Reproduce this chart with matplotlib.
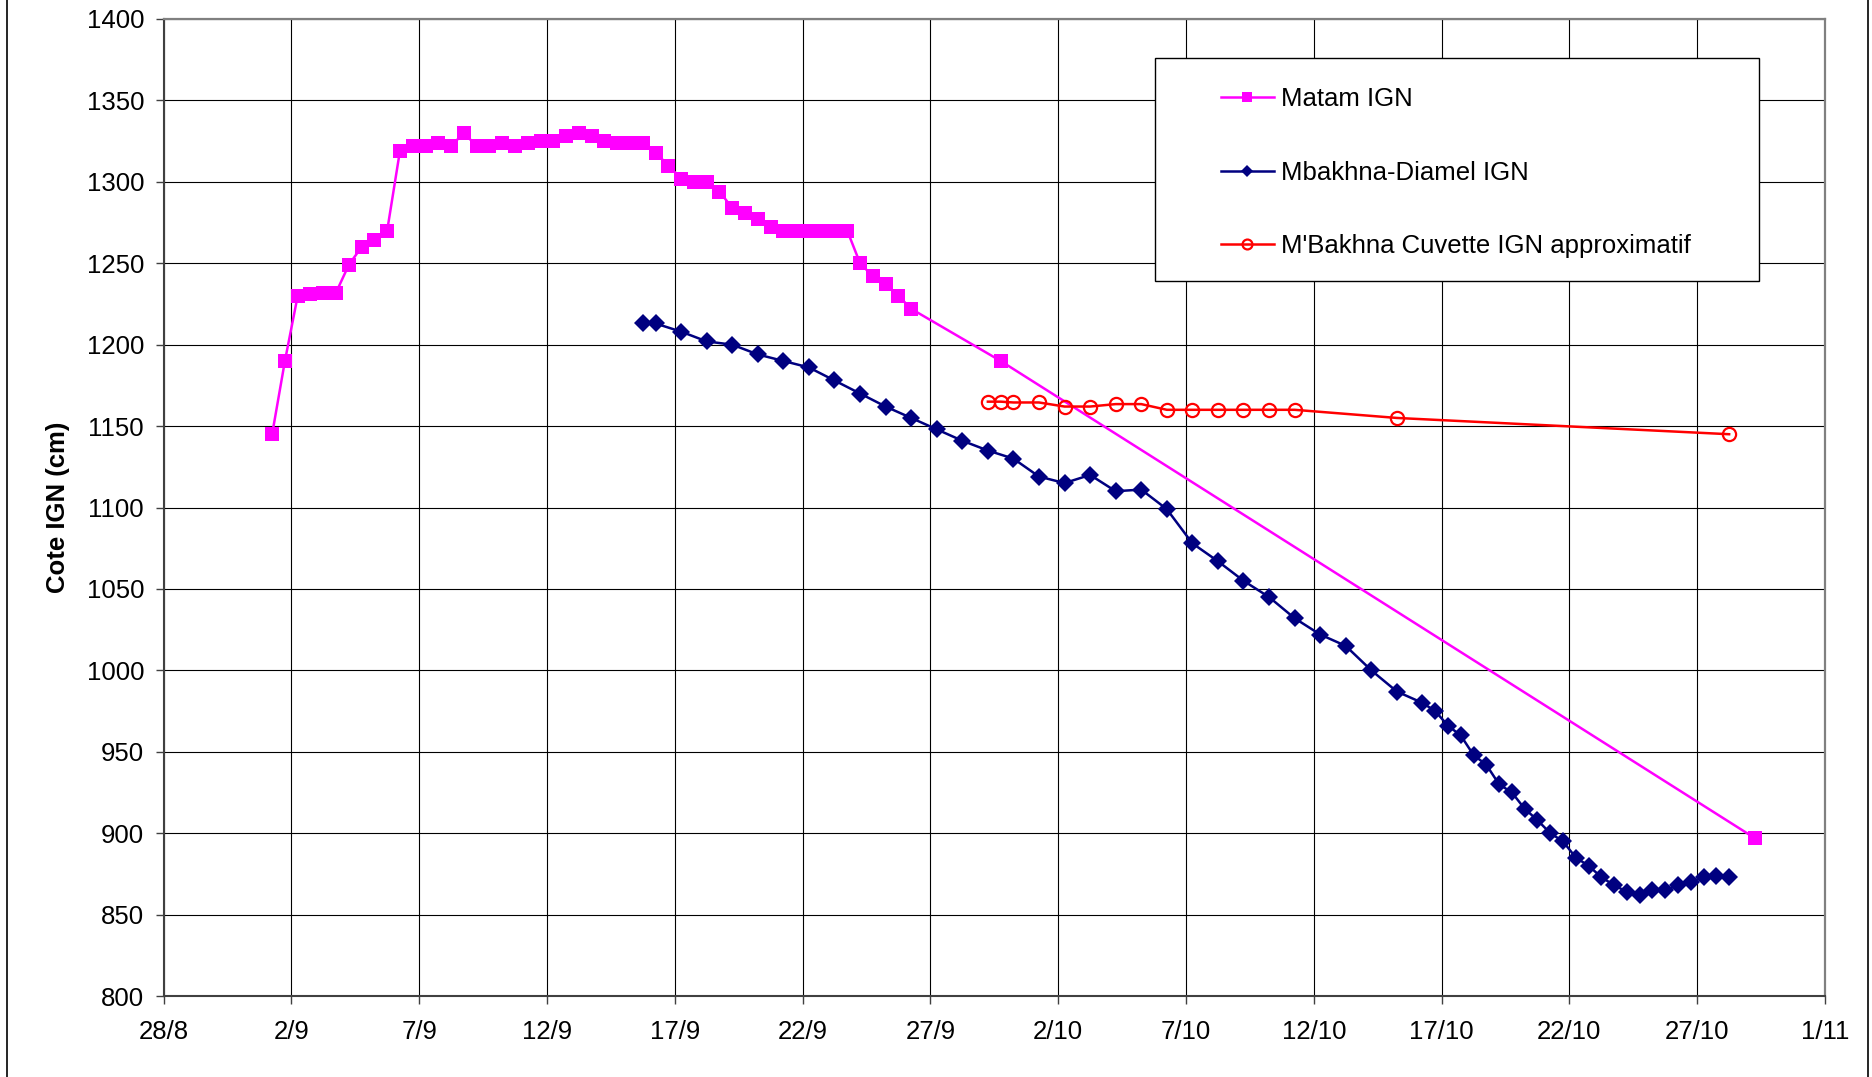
import matplotlib
matplotlib.use("Agg")
import matplotlib.pyplot as plt
from matplotlib.lines import Line2D
from matplotlib.patches import Rectangle

plt.rcParams['font.family'] = ['Liberation Sans', 'DejaVu Sans']

# x values are days counted from 28/8
tick_days = [0, 5, 10, 15, 20, 25, 30, 35, 40, 45, 50, 55, 60, 65]
tick_labels = ["28/8", "2/9", "7/9", "12/9", "17/9", "22/9", "27/9",
               "2/10", "7/10", "12/10", "17/10", "22/10", "27/10", "1/11"]

matam_days = [4.25, 4.75, 5.25, 5.75, 6.25, 6.75, 7.25, 7.75, 8.25, 8.75,
              9.25, 9.75, 10.25, 10.75, 11.25, 11.75, 12.25, 12.75, 13.25, 13.75,
              14.25, 14.75, 15.25, 15.75, 16.25, 16.75, 17.25, 17.75, 18.25, 18.75,
              19.25, 19.75, 20.25, 20.75, 21.25, 21.75, 22.25, 22.75, 23.25, 23.75,
              24.25, 24.75, 25.25, 25.75, 26.25, 26.75, 27.25, 27.75, 28.25, 28.75,
              29.25, 32.75, 62.25]
matam_cote = [1145, 1190, 1230, 1231, 1232, 1232, 1249, 1260, 1264, 1270,
              1319, 1322, 1322, 1324, 1322, 1330, 1322, 1322, 1324, 1322,
              1324, 1325, 1325, 1328, 1330, 1328, 1325, 1324, 1324, 1324,
              1318, 1310, 1302, 1300, 1300, 1294, 1284, 1281, 1277, 1272,
              1270, 1270, 1270, 1270, 1270, 1270, 1250, 1242, 1237, 1230,
              1222, 1190, 897]

diamel_days = [18.75, 19.25, 20.25, 21.25, 22.25, 23.25, 24.25, 25.25, 26.25, 27.25,
               28.25, 29.25, 30.25, 31.25, 32.25, 33.25, 34.25, 35.25, 36.25, 37.25,
               38.25, 39.25, 40.25, 41.25, 42.25, 43.25, 44.25, 45.25, 46.25, 47.25,
               48.25, 49.25, 49.75, 50.25, 50.75, 51.25, 51.75, 52.25, 52.75, 53.25,
               53.75, 54.25, 54.75, 55.25, 55.75, 56.25, 56.75, 57.25, 57.75, 58.25,
               58.75, 59.25, 59.75, 60.25, 60.75, 61.25]
diamel_cote = [1213, 1213, 1208, 1202, 1200, 1194, 1190, 1186, 1178, 1170,
               1162, 1155, 1148, 1141, 1135, 1130, 1119, 1115, 1120, 1110,
               1111, 1099, 1078, 1067, 1055, 1045, 1032, 1022, 1015, 1000,
               987, 980, 975, 966, 960, 948, 942, 930, 925, 915,
               908, 900, 895, 885, 880, 873, 868, 864, 862, 865,
               865, 868, 870, 873, 874, 873]

cuvette_days = [32.25, 32.75, 33.25, 34.25, 35.25, 36.25, 37.25, 38.25, 39.25, 40.25,
                41.25, 42.25, 43.25, 44.25, 48.25, 61.25]
cuvette_cote = [1165, 1165, 1164.5, 1164.5, 1162, 1162, 1163.5, 1163.5, 1160, 1160,
                1160, 1160, 1160, 1160, 1155, 1145]

W, H = 1872, 1077
fs = 18.5
fig = plt.figure(figsize=(W / 100, H / 100), dpi=100)
left, right, top, bottom = 163.5, 1825, 19, 996
ax = fig.add_axes([left / W, (H - bottom) / H, (right - left) / W, (bottom - top) / H])

l1, = ax.plot(matam_days, matam_cote, color="#FF00FF", lw=1.8, marker="s", ms=10,
              mfc="#FF00FF", mec="#FF00FF", mew=0, clip_on=False, zorder=3)
l2, = ax.plot(diamel_days, diamel_cote, color="#000080", lw=1.8, marker="D", ms=8.8,
              mfc="#000080", mec="#000080", mew=0, clip_on=False, zorder=4)
l3, = ax.plot(cuvette_days, cuvette_cote, color="#FF0000", lw=1.8, marker="o", ms=9.5,
              mfc="none", mec="#FF0000", mew=1.6, clip_on=False, zorder=5)

ax.set_xlim(0, 65)
ax.set_ylim(800, 1400)
ax.set_xticks(tick_days)
ax.set_xticklabels(tick_labels)
ax.set_yticks(range(800, 1401, 50))
ax.grid(True, color="black", lw=0.8)
ax.set_axisbelow(True)
ax.tick_params(axis="both", direction="out", length=6, width=1, color="#404040",
               labelsize=fs)
ax.tick_params(axis="x", pad=11)
ax.tick_params(axis="y", pad=8)
for side in ("left", "bottom"):
    ax.spines[side].set_color("#404040")
    ax.spines[side].set_linewidth(1.5)
for side in ("top", "right"):
    ax.spines[side].set_color("#808080")
    ax.spines[side].set_linewidth(1.6)
ax.set_ylabel("Cote IGN (cm)", fontsize=fs, fontweight="bold", labelpad=12)

# legend box with a wide left margin
box = Rectangle((1154.5 / W, 1 - 281 / H), (1758.5 - 1154.5) / W, (281 - 58.3) / H,
                transform=fig.transFigure, facecolor="white", edgecolor="black",
                lw=1, zorder=6)
fig.add_artist(box)
leg = fig.legend([l1, l2, l3],
                 ["Matam IGN", "Mbakhna-Diamel IGN", "M'Bakhna Cuvette IGN approximatif"],
                 loc="upper left", bbox_to_anchor=(1221 / W, 1 - 87 / H),
                 frameon=False, fontsize=fs, borderpad=0, borderaxespad=0,
                 handlelength=2.05, handletextpad=0.28, labelspacing=1.93,
                 markerscale=0.75)
leg.set_zorder(7)

# chart border lines at both sides
fig.add_artist(Line2D([7 / W, 7 / W], [0, 1], color="black", lw=1.2))
fig.add_artist(Line2D([1868 / W, 1868 / W], [0, 1], color="black", lw=1.2))

fig.savefig("out.png", dpi=100)
